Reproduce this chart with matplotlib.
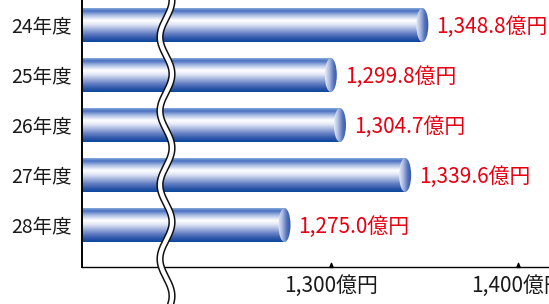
import numpy as np
import matplotlib.pyplot as plt
from matplotlib.colors import LinearSegmentedColormap
from matplotlib.patches import Ellipse

plt.rcParams['font.family'] = ['Noto Sans CJK JP', 'DejaVu Sans']

# data
years = ['24年度', '25年度', '26年度', '27年度', '28年度']
values = [1348.8, 1299.8, 1304.7, 1339.6, 1275.0]
value_labels = ['1,348.8億円', '1,299.8億円', '1,304.7億円', '1,339.6億円', '1,275.0億円']
xticks = [1300, 1400]
xtick_labels = ['1,300億円', '1,400億円']

W, H = 549, 304
fig = plt.figure(figsize=(W / 100, H / 100), dpi=100)
ax = fig.add_axes([82 / W, (H - 267) / H, 1 - 82 / W, 267 / H])

xmin, xmax = 1166.6, 1416.6
ymin, ymax = 4.84, -0.5
bar_h = 0.68
px_per_unit = 1.867
cap_w = 12 / px_per_unit

bar_cmap = LinearSegmentedColormap.from_list('bar', [
    (0.0, '#86aadb'), (0.08, '#4a70c0'), (0.22, '#b0c1e6'), (0.36, '#ffffff'),
    (0.48, '#e2e8f6'), (0.75, '#6680c4'), (0.9, '#2c55a8'), (1.0, '#0a489c')])
cap_cmap = LinearSegmentedColormap.from_list('cap', ['#e8edf8', '#aab9e0', '#5573bd', '#2d55a8'])
grad = np.linspace(0, 1, 200).reshape(-1, 1)
hgrad = np.linspace(0, 1, 100).reshape(1, -1)

for i, v in enumerate(values):
    top, bot = i - bar_h / 2, i + bar_h / 2
    ax.imshow(grad, cmap=bar_cmap, aspect='auto', extent=[xmin, v, bot, top],
              interpolation='bilinear', zorder=2)
    ell = Ellipse((v, i), cap_w, bar_h, facecolor='none', edgecolor='none')
    ax.add_patch(ell)
    im = ax.imshow(hgrad, cmap=cap_cmap, aspect='auto',
                   extent=[v - cap_w / 2, v + cap_w / 2, bot, top],
                   interpolation='bilinear', zorder=3)
    im.set_clip_path(ell)
    ax.annotate(value_labels[i], (v, i + 0.04), xytext=(10, 0), textcoords='offset points',
                color='#e60012', fontsize=15, va='center', ha='left',
                annotation_clip=False)

ax.set_xlim(xmin, xmax)
ax.set_ylim(ymin, ymax)

ax.set_yticks(range(len(years)))
ax.set_yticklabels(years, fontsize=14, color='#1a1a1a')
ax.tick_params(axis='y', length=0, pad=7)
ax.set_xticks(xticks)
ax.set_xticklabels(xtick_labels, fontsize=15, color='#1a1a1a')
ax.tick_params(axis='x', length=0, pad=6)

ax.plot(xticks, [ymin] * 2, linestyle='none', color='black', markersize=6,
        marker=[(-1, 0), (1, 0), (0, 2.5), (-1, 0)], clip_on=False, zorder=5)

for s in ['top', 'right']:
    ax.spines[s].set_visible(False)
ax.spines['left'].set_linewidth(1.4)
ax.spines['bottom'].set_linewidth(1.0)

# axis break wave
yy = np.linspace(0, H, 400)
xx = 166 + 6 * np.cos(2 * np.pi * yy / 74)
fx, fy = xx / W, 1 - yy / H
fig.add_artist(plt.Line2D(fx, fy, color='#111111', lw=5.2, transform=fig.transFigure, zorder=10))
fig.add_artist(plt.Line2D(fx, fy, color='white', lw=3.0, transform=fig.transFigure, zorder=11))

fig.savefig('out.png', dpi=100)
